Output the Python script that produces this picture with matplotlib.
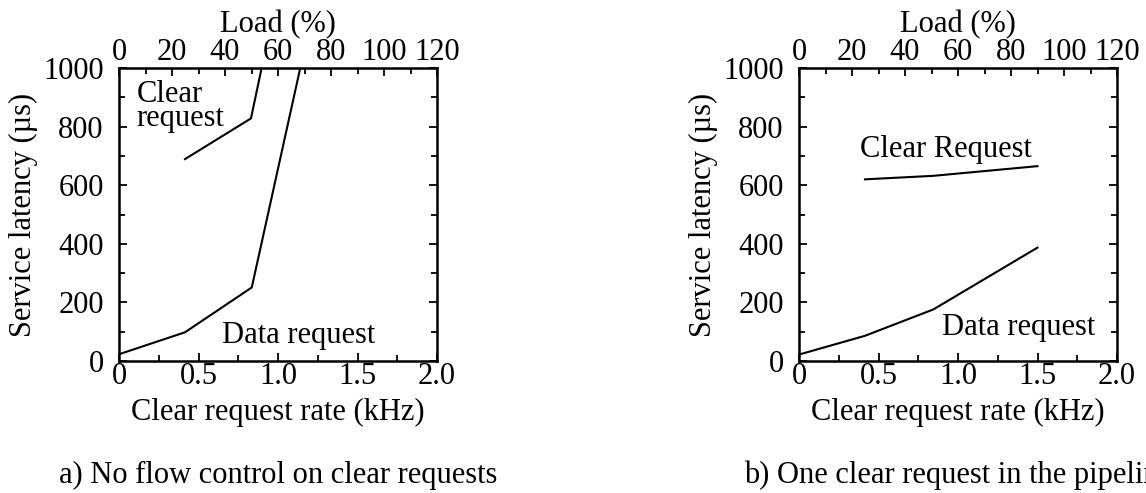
import matplotlib
matplotlib.use("Agg")
import matplotlib.pyplot as plt
from matplotlib.ticker import MultipleLocator

plt.rcParams['font.family'] = ['Liberation Serif', 'DejaVu Serif']

# Panel a) No flow control
a_data_x = [0.0, 0.415, 0.835, 1.14]
a_data_y = [23, 98, 251, 1000]
a_clear_x = [0.415, 0.83, 0.897]
a_clear_y = [689, 828, 1000]

# Panel b) One clear request in the pipeline
b_data_x = [0.0, 0.415, 0.845, 1.5]
b_data_y = [22, 86, 176, 387]
b_clear_x = [0.415, 0.845, 1.5]
b_clear_y = [620, 632, 665]

xticks = [0, 0.5, 1.0, 1.5, 2.0]
xticklabels = ['0', '0.5', '1.0', '1.5', '2.0']
yticks = [0, 200, 400, 600, 800, 1000]
load_ticks = [0, 20, 40, 60, 80, 100, 120]

W, H = 1146, 493
fig = plt.figure(figsize=(W / 100, H / 100), dpi=100)
FS = 22


def setup(ax):
    ax.set_xlim(0, 2.0)
    ax.set_ylim(0, 1000)
    ax.set_xticks(xticks)
    ax.set_xticklabels(xticklabels)
    ax.set_yticks(yticks)
    ax.xaxis.set_minor_locator(MultipleLocator(0.25))
    ax.yaxis.set_minor_locator(MultipleLocator(100))
    ax.tick_params(which='both', direction='in', right=True, labelsize=FS, width=1.3)
    ax.tick_params(which='major', length=6)
    ax.tick_params(which='minor', length=4)
    ax.tick_params(axis='x', which='both', top=False, pad=1)
    ax.tick_params(axis='y', which='both', pad=11)
    for s in ax.spines.values():
        s.set_linewidth(1.8)
    ax.set_xlabel('Clear request rate (kHz)', fontsize=FS)
    ax.xaxis.set_label_coords(0.5, (361 - 398) / 293)
    ax.set_ylabel('Service latency (µs)', fontsize=FS)
    ax.yaxis.set_label_coords((38 - 119) / 318, 0.5)
    top = ax.secondary_xaxis('top', functions=(lambda x: x * 60, lambda p: p / 60))
    top.set_xticks(load_ticks)
    top.xaxis.set_minor_locator(MultipleLocator(10))
    top.tick_params(which='both', direction='in', labelsize=FS, width=1.3, pad=1)
    top.tick_params(which='major', length=6)
    top.tick_params(which='minor', length=4)
    top.set_xlabel('Load (%)', fontsize=FS, labelpad=4)


ax1 = fig.add_axes([119 / W, (H - 361) / H, 318 / W, 293 / H])
setup(ax1)
ax1.plot(a_data_x, a_data_y, color='black', lw=1.5)
ax1.plot(a_clear_x, a_clear_y, color='black', lw=1.5)
ax1.text(0.11, 960, 'Clear\nrequest', fontsize=FS, va='top', ha='left', linespacing=0.78)
ax1.text(0.65, 61, 'Data request', fontsize=FS, va='baseline', ha='left')

ax2 = fig.add_axes([799 / W, (H - 361) / H, 318 / W, 293 / H])
setup(ax2)
ax2.plot(b_data_x, b_data_y, color='black', lw=1.5)
ax2.plot(b_clear_x, b_clear_y, color='black', lw=1.5)
ax2.text(0.384, 696, 'Clear Request', fontsize=FS, va='baseline', ha='left')
ax2.text(0.898, 89, 'Data request', fontsize=FS, va='baseline', ha='left')

fig.text(278 / W, 1 - 483 / H, 'a) No flow control on clear requests', fontsize=FS,
         ha='center', va='baseline')
fig.text(958 / W, 1 - 483 / H, 'b) One clear request in the pipeline', fontsize=FS,
         ha='center', va='baseline')

fig.savefig('out.png', dpi=100)
